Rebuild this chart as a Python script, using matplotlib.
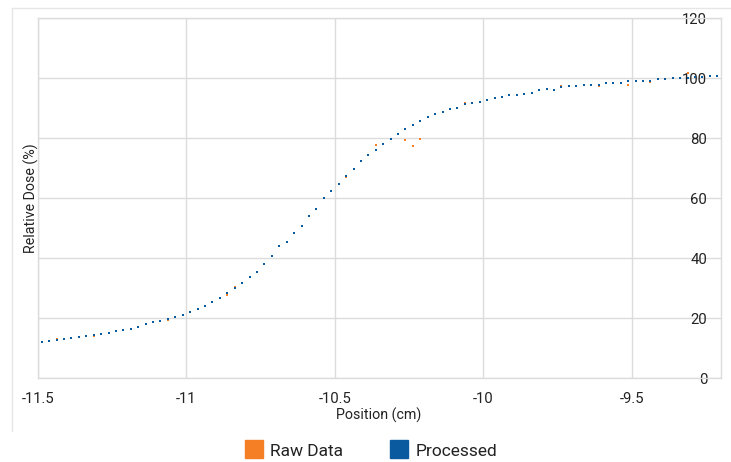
import matplotlib
matplotlib.use("Agg")
import matplotlib.pyplot as plt
import numpy as np
from matplotlib.lines import Line2D

plt.rcParams['font.family'] = ['Roboto', 'DejaVu Sans']

# Position (cm) of each sample
x_start = -11.4875
x_step = 0.025
processed = [
    12.0, 12.3, 12.8, 12.9, 13.2, 13.6, 13.9, 14.4, 14.8, 15.1,
    15.6, 16.0, 16.3, 16.9, 17.9, 18.6, 19.0, 19.7, 20.4, 21.1,
    22.1, 23.0, 24.1, 25.2, 26.7, 28.2, 30.1, 31.8, 33.6, 35.4,
    38.1, 40.6, 44.0, 45.2, 48.3, 50.8, 53.9, 56.3, 59.9, 62.5,
    64.8, 67.2, 69.6, 72.2, 74.2, 76.0, 78.0, 79.8, 81.3, 82.9,
    84.4, 85.6, 87.0, 87.9, 88.8, 89.6, 90.1, 91.4, 91.8, 92.1,
    92.6, 93.2, 93.8, 94.2, 94.4, 94.8, 95.0, 95.9, 96.2, 96.1,
    97.1, 97.2, 97.3, 97.6, 97.7, 97.7, 98.2, 98.3, 98.4, 98.9,
    99.0, 99.1, 99.0, 99.6, 99.8, 99.9, 100.0, 100.1, 100.3, 100.4,
    100.6, 100.8,
]
raw = [
    12.0, 12.3, 12.9, 12.9, 13.2, 13.6, 13.9, 14.1, 14.8, 15.1,
    15.8, 16.0, 16.3, 16.9, 17.9, 18.6, 19.0, 19.4, 20.4, 21.0,
    22.1, 23.0, 24.1, 25.2, 26.6, 27.8, 30.3, 31.8, 33.6, 35.4,
    38.1, 40.6, 44.0, 45.2, 48.3, 50.8, 53.9, 56.3, 59.9, 62.5,
    64.7, 67.1, 69.6, 72.2, 74.2, 77.6, 78.0, 79.8, 81.3, 79.4,
    77.3, 79.8, 87.0, 87.9, 88.8, 89.6, 90.1, 91.8, 91.8, 92.1,
    92.6, 93.2, 93.8, 94.2, 94.4, 94.8, 94.9, 96.1, 96.2, 96.1,
    97.3, 97.2, 97.4, 97.6, 97.7, 97.2, 98.2, 98.3, 98.4, 97.7,
    99.0, 99.1, 98.8, 99.7, 99.8, 100.0, 100.0, 101.6, 100.3, 100.4,
    100.6, 100.8,
]
positions = [x_start + x_step * i for i in range(len(processed))]

x_ticks = [-11.5, -11, -10.5, -10, -9.5]
x_tick_labels = ['-11.5', '-11', '-10.5', '-10', '-9.5']
y_ticks = [0, 20, 40, 60, 80, 100, 120]

ORANGE = '#F47F24'
BLUE = '#0A5AA0'
GRID = '#DCDCDC'
TEXT = '#222222'

fig = plt.figure(figsize=(7.31, 4.62), dpi=100)
W, H = 731, 462
ax = fig.add_axes([38 / W, 1 - 378 / H, (721 - 38) / W, (378 - 18) / H])

ax.plot(positions, raw, linestyle='none', marker='s', markersize=2.0,
        color=ORANGE, markeredgewidth=0, zorder=3)
ax.plot(positions, processed, linestyle='none', marker='s', markersize=1.9,
        color=BLUE, markeredgewidth=0, zorder=4)

ax.set_xlim(-11.5, -9.2)
ax.set_ylim(0, 120)
ax.set_xticks(x_ticks)
ax.set_xticklabels(x_tick_labels)
ax.set_yticks(y_ticks)
ax.grid(True, color=GRID, linewidth=1)
ax.set_axisbelow(True)
for s in ax.spines.values():
    s.set_color(GRID)
    s.set_linewidth(1)

ax.tick_params(axis='x', length=0, pad=10, labelsize=10.7, labelcolor=TEXT)
ax.yaxis.set_ticks_position('right')
ax.tick_params(axis='y', length=0, pad=-10, labelsize=10.7, labelcolor=TEXT)
for lbl in ax.get_yticklabels():
    lbl.set_horizontalalignment('right')
    lbl.set_zorder(10)

ax.set_xlabel('Position (cm)', fontsize=10.3, color=TEXT)
ax.xaxis.set_label_coords(0.498, -0.083)
ax.set_ylabel('Relative Dose (%)', fontsize=10.3, color=TEXT)
ax.yaxis.set_label_position('left')
ax.yaxis.set_label_coords(0.001, 0.5)

# outer frame (left and top edges)
fig.add_artist(Line2D([11.7 / W, 11.7 / W], [1 - 431 / H, 1 - 8 / H],
                      color='#E6E6E6', linewidth=1))
fig.add_artist(Line2D([11.7 / W, 1.0], [1 - 8 / H, 1 - 8 / H],
                      color='#E6E6E6', linewidth=1))

handles = [Line2D([], [], linestyle='none', marker='s', markersize=12.8,
                  color=ORANGE, label='Raw Data'),
           Line2D([], [], linestyle='none', marker='s', markersize=12.8,
                  color=BLUE, label='Processed')]
fig.legend(handles=handles, loc='center', bbox_to_anchor=(371 / W, 1 - 451 / H),
           ncol=2, frameon=False, fontsize=12.5, handlelength=1.0,
           handletextpad=0.45, columnspacing=2.7, labelcolor=TEXT)

fig.savefig('out.png', dpi=100)
